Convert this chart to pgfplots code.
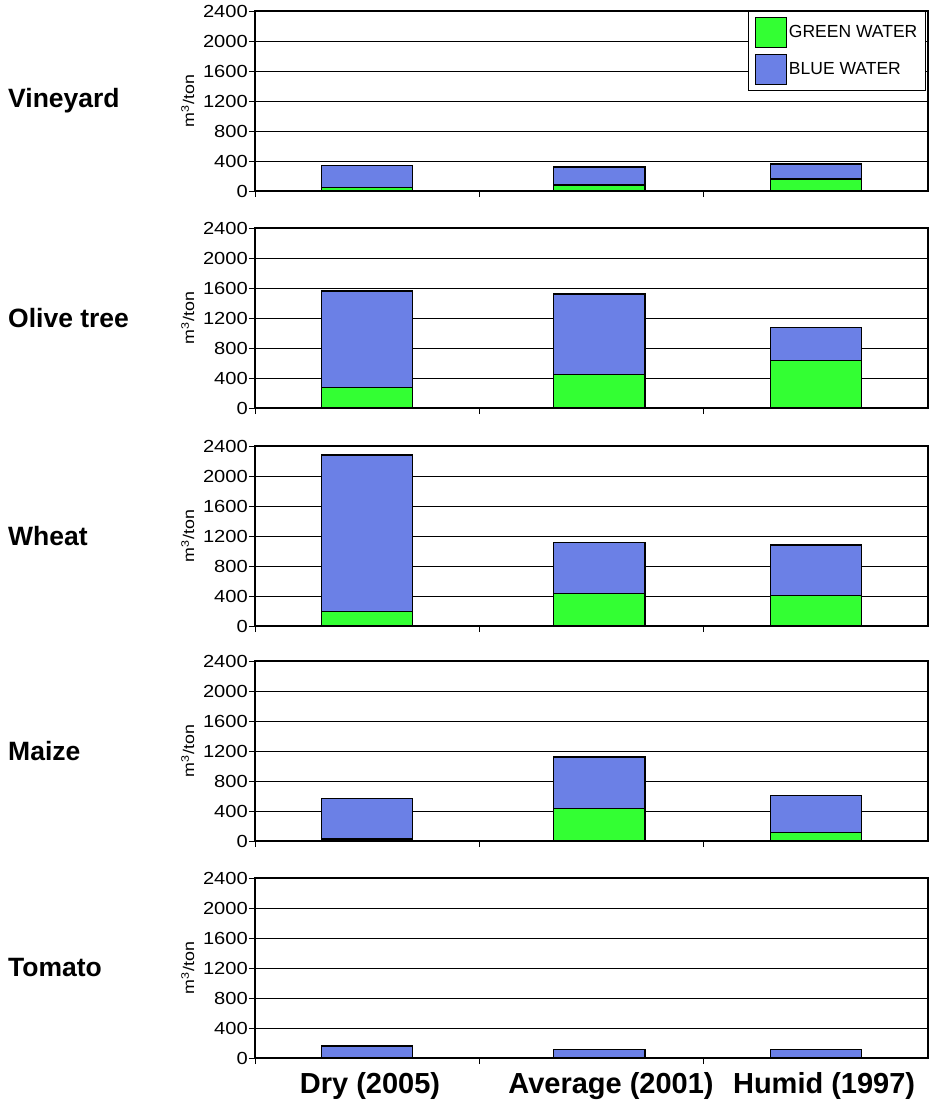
\documentclass[border=0pt]{standalone}
\usepackage{pgfplots}
\pgfplotsset{compat=1.18}
\usepackage{fontspec}
\setmainfont{Liberation Sans}
\newfontfamily\tickfont{Liberation Sans}[FakeStretch=1.15]
\definecolor{gw}{RGB}{51,255,51}
\definecolor{bw}{RGB}{107,128,230}

\pgfplotsset{
  panel/.style={
    ybar stacked, scale only axis, width=673pt, height=180pt,
    ymin=0, ymax=2400, ytick={0,400,...,2400},
    xmin=-0.5, xmax=2.5, xtick={-0.5,0.5,1.5}, xticklabels={},
    bar width=0.406, clip=false,
    ymajorgrids, major grid style={black, line width=0.9pt},
    tick style={black, line width=0.9pt}, tick align=outside, major tick length=6pt,
    xtick pos=bottom, ytick pos=left,
    axis line style={black, line width=1.2pt},
    /pgf/number format/assume math mode=true, /pgf/number format/1000 sep={}, scaled y ticks=false,
    yticklabel style={font=\tickfont\fontsize{17.5}{17.5}\selectfont, inner sep=1pt},
    ylabel={m\textsuperscript{3}/ton},
    ylabel style={font=\tickfont\fontsize{15.5}{15.5}\selectfont, at={(axis description cs:-0.1,0.5)}, rotate=0, anchor=center},
    legend image code/.code={\draw[##1, line width=1.3pt] (0pt,-15pt) rectangle (31pt,15pt);},
  },
}
\tikzset{rowlab/.style={anchor=west, inner sep=0pt, font=\bfseries\fontsize{26.5}{26.5}\selectfont}}

\pgfplotstableread{
x green blue
0 50 290
1.035 80 240
2 160 200
}\vineyard
\pgfplotstableread{
x green blue
0 275 1285
1.035 450 1070
2 635 435
}\olive
\pgfplotstableread{
x green blue
0 195 2085
1.035 430 680
2 405 675
}\wheat
\pgfplotstableread{
x green blue
0 25 540
1.035 430 690
2 110 500
}\maize
\pgfplotstableread{
x green blue
0 5 155
1.035 0 110
2 10 100
}\tomato

\begin{document}
\begin{tikzpicture}
\path[use as bounding box] (0,0) rectangle (932pt,-1106pt);

\begin{axis}[panel, at={(255pt,-191pt)}, anchor=south west,
  legend style={at={(axis description cs:0.997,1)}, anchor=north east, draw=black, line width=1.3pt,
    font=\fontsize{17.5}{17.5}\selectfont, row sep=6pt, inner xsep=6pt, inner ysep=5pt,
    /tikz/every even column/.append style={column sep=4pt}},
  legend cell align=left]
\addplot[fill=gw, draw=black, line width=1.3pt] table[x=x,y=green]{\vineyard};
\addplot[fill=bw, draw=black, line width=1.3pt] table[x=x,y=blue]{\vineyard};
\legend{GREEN WATER, BLUE WATER}
\node[rowlab] at (axis description cs:-0.367,0.5) {Vineyard};
\end{axis}

\begin{axis}[panel, at={(255pt,-408pt)}, anchor=south west]
\addplot[fill=gw, draw=black, line width=1.3pt] table[x=x,y=green]{\olive};
\addplot[fill=bw, draw=black, line width=1.3pt] table[x=x,y=blue]{\olive};
\node[rowlab] at (axis description cs:-0.367,0.5) {Olive tree};
\end{axis}

\begin{axis}[panel, at={(255pt,-626pt)}, anchor=south west]
\addplot[fill=gw, draw=black, line width=1.3pt] table[x=x,y=green]{\wheat};
\addplot[fill=bw, draw=black, line width=1.3pt] table[x=x,y=blue]{\wheat};
\node[rowlab] at (axis description cs:-0.367,0.5) {Wheat};
\end{axis}

\begin{axis}[panel, at={(255pt,-841pt)}, anchor=south west]
\addplot[fill=gw, draw=black, line width=1.3pt] table[x=x,y=green]{\maize};
\addplot[fill=bw, draw=black, line width=1.3pt] table[x=x,y=blue]{\maize};
\node[rowlab] at (axis description cs:-0.367,0.5) {Maize};
\end{axis}

\begin{axis}[panel, at={(255pt,-1058pt)}, anchor=south west,
  extra x ticks={0.013,1.087,2.037},
  extra x tick labels={Dry (2005), Average (2001), Humid (1997)},
  extra x tick style={major tick length=0pt, tick style={draw=none},
    xticklabel style={font=\bfseries\fontsize{29}{29}\selectfont, yshift=-11pt}}]
\addplot[fill=gw, draw=black, line width=1.3pt] table[x=x,y=green]{\tomato};
\addplot[fill=bw, draw=black, line width=1.3pt] table[x=x,y=blue]{\tomato};
\node[rowlab] at (axis description cs:-0.367,0.5) {Tomato};
\end{axis}
\end{tikzpicture}
\end{document}
